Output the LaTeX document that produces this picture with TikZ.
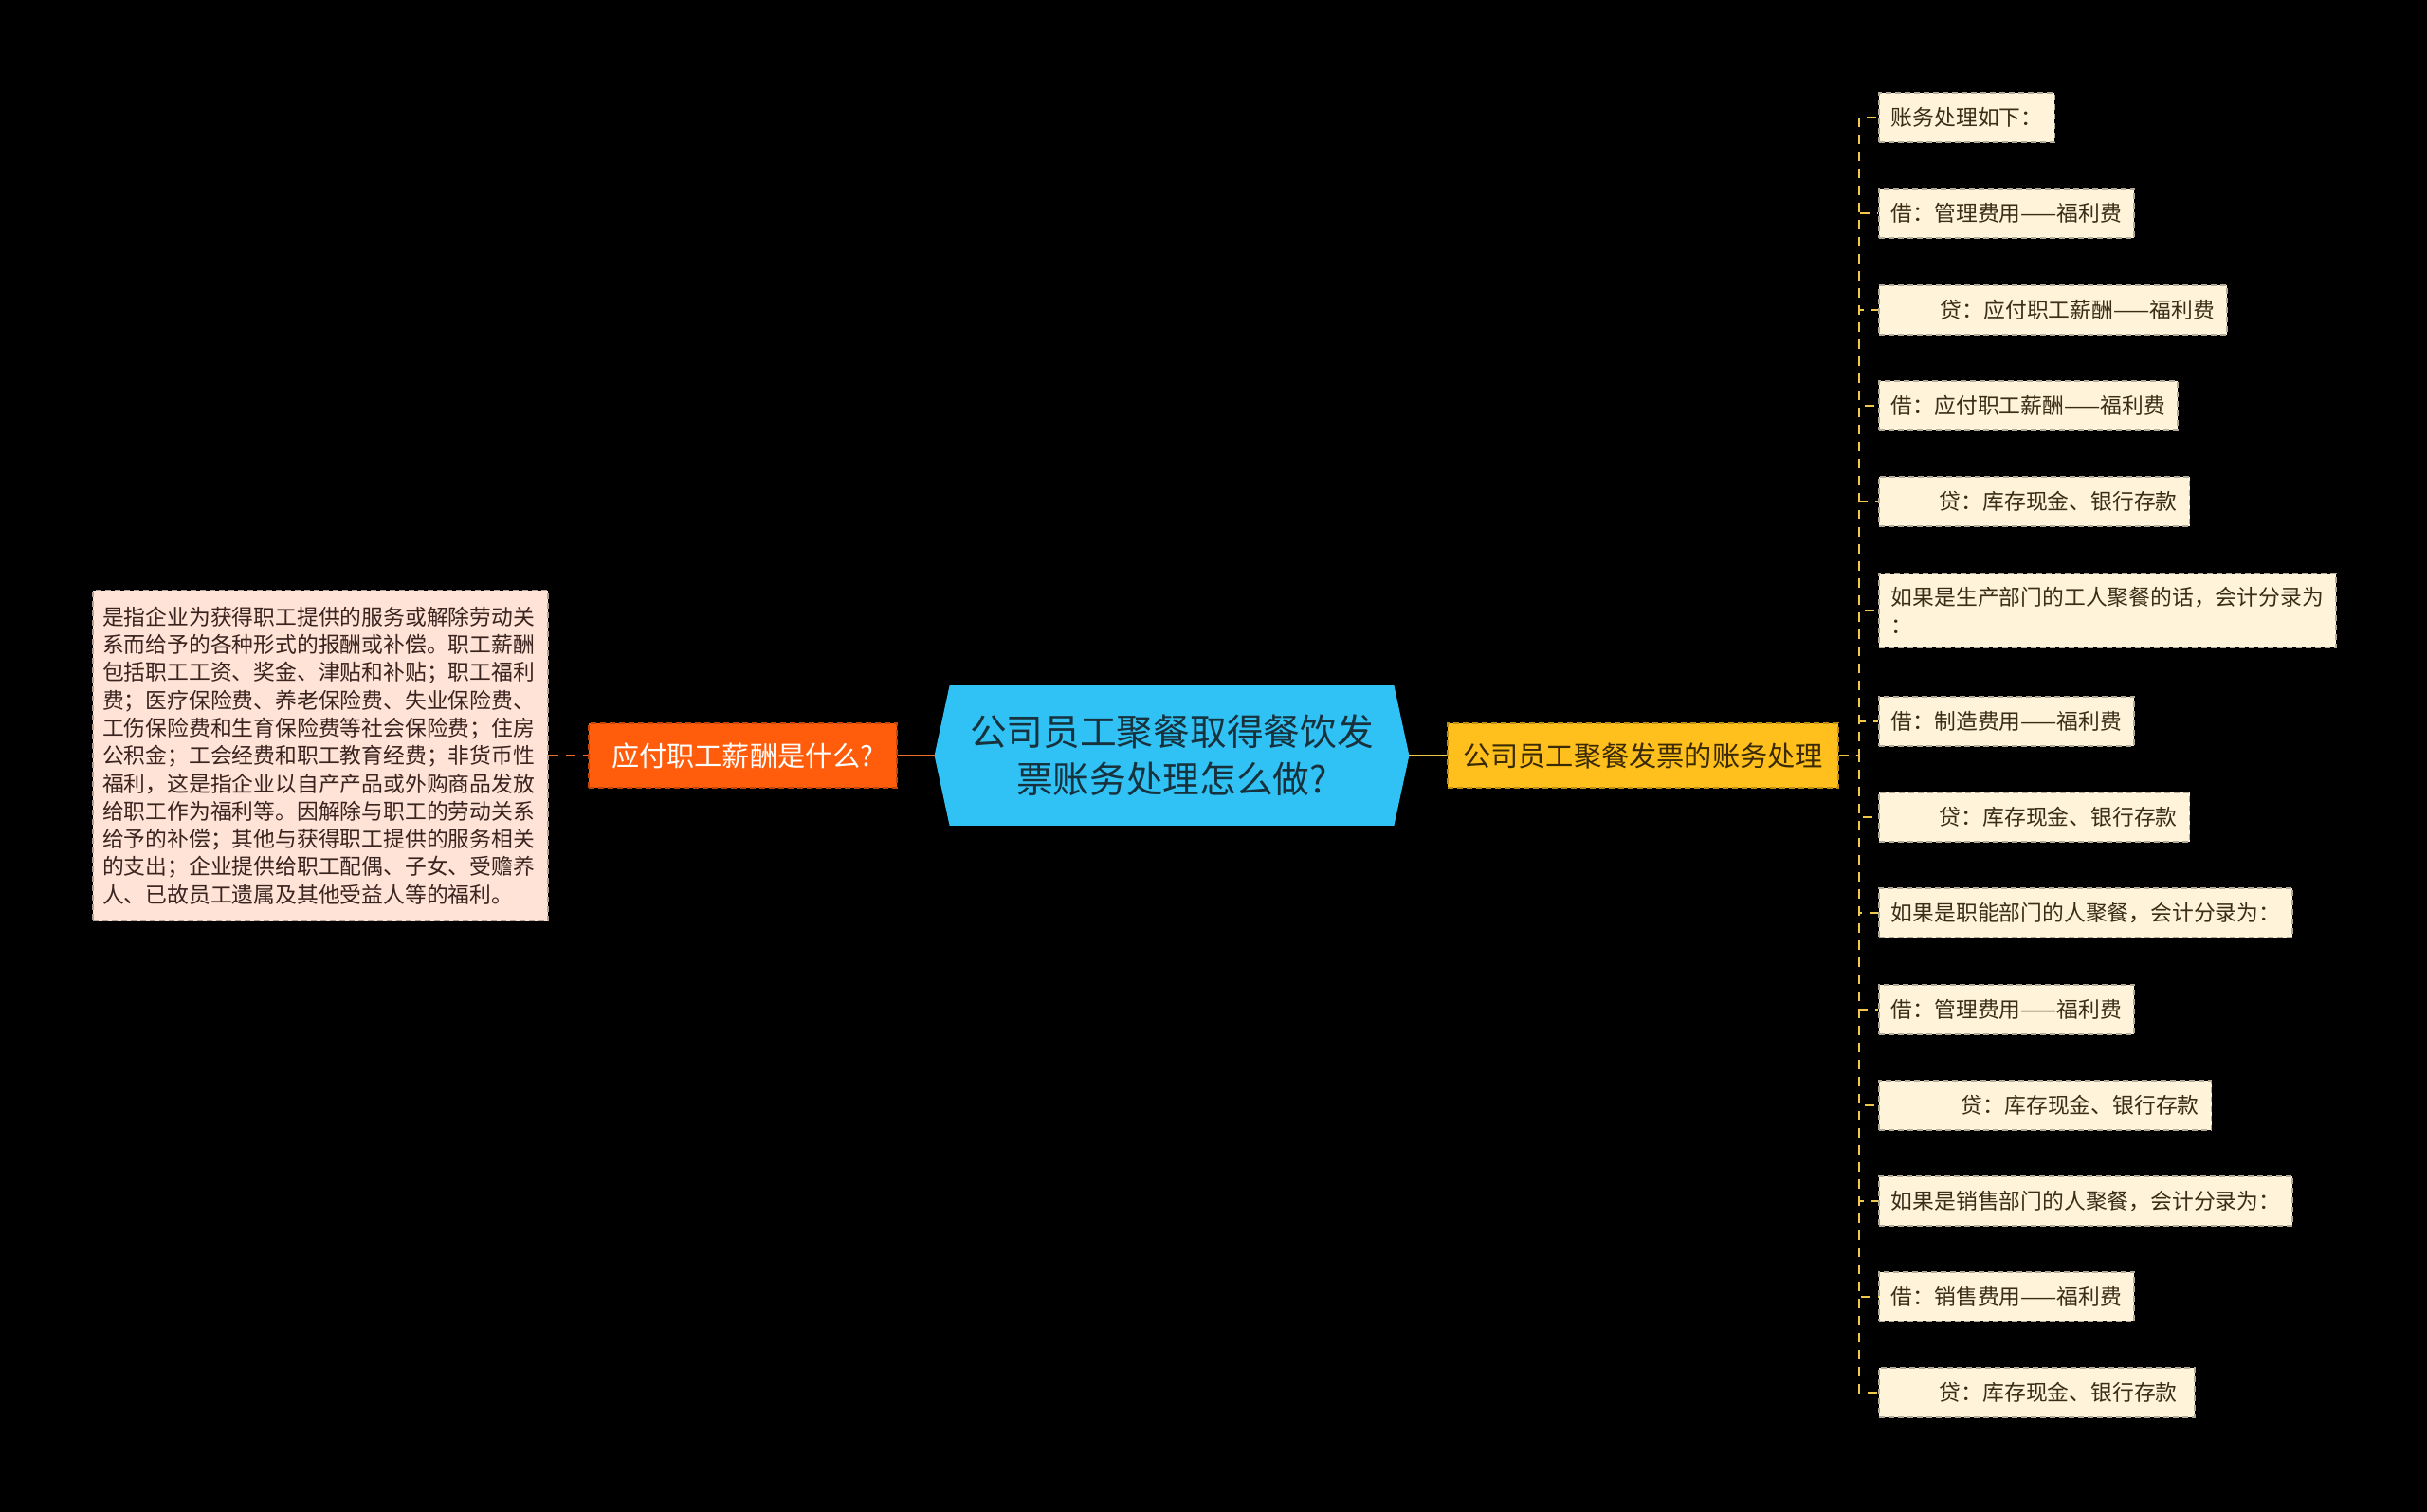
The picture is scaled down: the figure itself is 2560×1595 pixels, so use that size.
\documentclass[tikz,border=0pt]{standalone}
\usepackage{fontspec}
\newfontfamily\cjk{Noto Sans CJK SC}
\usepackage{xcolor}
\usetikzlibrary{positioning,backgrounds}

\definecolor{ctrfill}{HTML}{30C2F4}
\definecolor{ctrtext}{HTML}{17313D}
\definecolor{orgfill}{HTML}{FF5C0B}
\definecolor{orgline}{HTML}{EE6A2C}
\definecolor{ylwfill}{HTML}{FFBF1C}
\definecolor{ylwline}{HTML}{F2C84B}
\definecolor{ylwtext}{HTML}{3A2A05}
\definecolor{leafbg}{HTML}{FFF4DA}
\definecolor{leaftext}{HTML}{3A2E18}
\definecolor{notebg}{HTML}{FFE3D6}
\definecolor{notetext}{HTML}{3A2420}

\newcommand\rootfont{\cjk\fontsize{19.35pt}{25pt}\selectfont}
\newcommand\branchfont{\cjk\fontsize{14.6pt}{18pt}\selectfont}
\newcommand\leaffont{\cjk\fontsize{11.4pt}{14.65pt}\selectfont}

\begin{document}
\begin{tikzpicture}[x=0.5pt, y=-0.5pt,
  root/.style   = {minimum width=250pt, minimum height=73.5pt, inner sep=0pt,
                   align=center, font=\rootfont, text=ctrtext},
  branch/.style = {minimum height=34pt, inner sep=0pt, font=\branchfont,
                   dash pattern=on 3pt off 2pt, line width=0.8pt},
  note/.style   = {fill=notebg, draw=notebg!70!black, dash pattern=on 3pt off 2pt,
                   line width=0.8pt, text width=230pt, inner xsep=5pt, inner ysep=6.5pt,
                   minimum height=174.5pt, align=left, font=\leaffont, text=notetext},
  leaf/.style   = {fill=leafbg, draw=leafbg!70!black, dash pattern=on 3pt off 2pt,
                   line width=0.8pt, anchor=west, minimum height=26pt, inner xsep=6.5pt,
                   inner ysep=7.5pt, align=left, font=\leaffont, text=leaftext},
  olink/.style  = {orgline, line width=1pt},
  ylink/.style  = {ylwline, line width=1pt}
]
\begin{pgfonlayer}{background}
  \fill[black] (0,0) rectangle (2560,1595);
\end{pgfonlayer}

% --- centre ---
\node[root] (root) at (1236,797) {公司员工聚餐取得餐饮发\\票账务处理怎么做?};
\begin{pgfonlayer}{background}
  \fill[ctrfill] (root.west) -- ([xshift=8pt]root.north west) -- ([xshift=-8pt]root.north east)
    -- (root.east) -- ([xshift=-8pt]root.south east) -- ([xshift=8pt]root.south west) -- cycle;
\end{pgfonlayer}

% --- gauche ---
\node[branch, fill=orgfill, draw=orgfill!75!black, text=white, minimum width=162.5pt]
  (ask) at (783.5,797) {应付职工薪酬是什么?};
\node[note] (note) at (338,797) {是指企业为获得职工提供的服务或解除劳动关\\
系而给予的各种形式的报酬或补偿。职工薪酬\\
包括职工工资、奖金、津贴和补贴；职工福利\\
费；医疗保险费、养老保险费、失业保险费、\\
工伤保险费和生育保险费等社会保险费；住房\\
公积金；工会经费和职工教育经费；非货币性\\
福利，这是指企业以自产产品或外购商品发放\\
给职工作为福利等。因解除与职工的劳动关系\\
给予的补偿；其他与获得职工提供的服务相关\\
的支出；企业提供给职工配偶、子女、受赡养\\
人、已故员工遗属及其他受益人等的福利。};
\draw[olink, dash pattern=on 5pt off 4pt] (note.east) -- (ask.west);
\draw[olink] (ask.east) -- (root.west);

% --- droite ---
\node[branch, fill=ylwfill, draw=ylwfill!75!black, text=ylwtext, minimum width=206pt]
  (acct) at (1733,797) {公司员工聚餐发票的账务处理};
\draw[ylink] (root.east) -- (acct.west);

\foreach \i/\y/\txt in {
  1/124/{账务处理如下：},
  2/225/{借：管理费用——福利费},
  3/327/{\hspace*{26pt}贷：应付职工薪酬——福利费},
  4/428/{借：应付职工薪酬——福利费},
  5/529/{\hspace*{25.5pt}贷：库存现金、银行存款},
  6/644/{如果是生产部门的工人聚餐的话，会计分录为\\：},
  7/761/{借：制造费用——福利费},
  8/862/{\hspace*{25.5pt}贷：库存现金、银行存款},
  9/963/{如果是职能部门的人聚餐，会计分录为：},
  10/1065/{借：管理费用——福利费},
  11/1166/{\hspace*{37pt}贷：库存现金、银行存款},
  12/1267/{如果是销售部门的人聚餐，会计分录为：},
  13/1368/{借：销售费用——福利费},
  14/1469/{\hspace*{25.5pt}贷：库存现金、银行存款}
} { \node[leaf] (leaf\i) at (1981,\y) {\txt}; }

\foreach \i in {1,...,14} {
  \draw[ylink, dash pattern=on 5pt off 4pt] (acct.east) -- ++(21,0) |- (leaf\i.west);
}
\end{tikzpicture}
\end{document}
